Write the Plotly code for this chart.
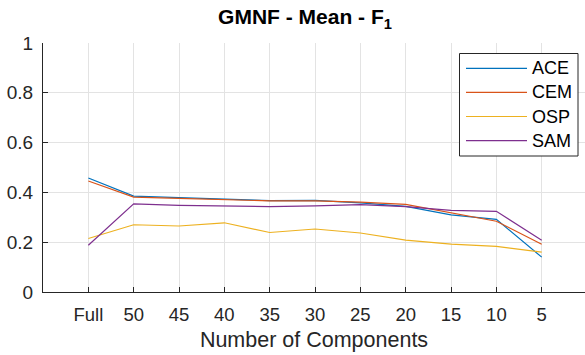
import plotly.graph_objects as go

categories = ["Full", "50", "45", "40", "35", "30", "25", "20", "15", "10", "5"]
series_names = ["ACE", "CEM", "OSP", "SAM"]
ace = [0.458, 0.385, 0.379, 0.374, 0.367, 0.368, 0.358, 0.344, 0.310, 0.292, 0.140]
cem = [0.446, 0.381, 0.376, 0.371, 0.366, 0.366, 0.361, 0.352, 0.319, 0.284, 0.192]
osp = [0.215, 0.270, 0.265, 0.278, 0.239, 0.253, 0.237, 0.208, 0.192, 0.183, 0.160]
sam = [0.188, 0.354, 0.348, 0.344, 0.343, 0.346, 0.351, 0.343, 0.328, 0.324, 0.208]
y_ticks = [0, 0.2, 0.4, 0.6, 0.8, 1]
y_ticklabels = ["0", "0.2", "0.4", "0.6", "0.8", "1"]

colors = ["#0072BD", "#D95319", "#EDB120", "#7E2F8E"]
values = [ace, cem, osp, sam]
FONT = "Liberation Sans, Arial, Helvetica, sans-serif"
AX = "#262626"

W, H = 585, 355
ML, MR, MT, MB = 43, 0, 43, 63
PW, PH = W - ML - MR, H - MT - MB

def px_x(p):
    return (p - ML) / PW

def px_y(p):
    return (H - MB - p) / PH

fig = go.Figure()
for name, vals, col in zip(series_names, values, colors):
    fig.add_trace(go.Scatter(x=categories, y=vals, mode="lines", name=name,
                             line=dict(color=col, width=1.2), showlegend=False))

# legend box (MATLAB-style)
shapes = [dict(type="rect", xref="paper", yref="paper",
               x0=px_x(459.5), x1=px_x(578), y0=px_y(156), y1=px_y(53.5),
               line=dict(color=AX, width=1), fillcolor="white", layer="above")]
annotations = []
for i, (name, col) in enumerate(zip(series_names, colors)):
    yy = 68.3 + 24.1 * i
    shapes.append(dict(type="line", xref="paper", yref="paper",
                       x0=px_x(466), x1=px_x(527), y0=px_y(yy), y1=px_y(yy),
                       line=dict(color=col, width=1.2), layer="above"))
    annotations.append(dict(xref="paper", yref="paper", x=px_x(530), y=px_y(yy),
                            text=name, showarrow=False, xanchor="left", yanchor="middle",
                            font=dict(family=FONT, size=18, color="black")))

fig.update_layout(
    width=W, height=H,
    margin=dict(l=ML, r=MR, t=MT, b=MB, pad=0),
    paper_bgcolor="white", plot_bgcolor="white",
    font=dict(family=FONT, color=AX),
    title=dict(text="<b>GMNF - Mean - F<sub>1</sub></b>", x=305 / W,
               xanchor="center", yref="container", y=1 - 17 / H, yanchor="middle",
               font=dict(family=FONT, size=21, color="black")),
    xaxis=dict(type="category", range=[-1, 10.955], tickmode="array",
               tickvals=categories, ticktext=categories,
               showgrid=True, gridcolor="#e3e3e3", gridwidth=1,
               showline=True, linecolor=AX, linewidth=1,
               ticks="inside", ticklen=5, tickcolor=AX,
               tickfont=dict(family=FONT, size=18.5, color=AX),
               ticklabelstandoff=6,
               title=dict(text="Number of Components", standoff=7,
                          font=dict(family=FONT, size=21.5, color=AX)),
               zeroline=False),
    yaxis=dict(range=[0, 1], tickmode="array", tickvals=y_ticks, ticktext=y_ticklabels,
               showgrid=True, gridcolor="#e3e3e3", gridwidth=1,
               showline=True, linecolor=AX, linewidth=1,
               ticks="inside", ticklen=5, tickcolor=AX,
               tickfont=dict(family=FONT, size=19, color=AX),
               ticklabelstandoff=5,
               zeroline=False),
    shapes=shapes, annotations=annotations,
)

fig.write_html("out.html")
